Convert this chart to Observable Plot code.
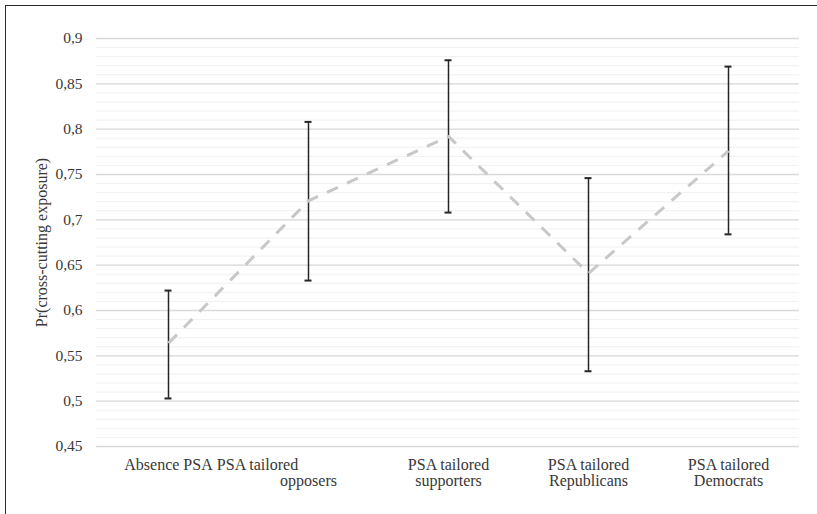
<!DOCTYPE html>
<html>
<head>
<meta charset="utf-8">
<script src="https://cdn.jsdelivr.net/npm/d3@7"></script>
<script src="https://cdn.jsdelivr.net/npm/@observablehq/plot@0.6"></script>
<style>
  html, body { margin: 0; padding: 0; background: #fff; overflow: hidden; }
  #wrap { position: relative; width: 817px; height: 514px; overflow: hidden; }
  #border { position: absolute; left: 5px; top: 5px; width: 900px; height: 900px;
            border: 1.5px solid #2a2a2a; pointer-events: none; }
  #chart svg, #chart svg text { font-family: "Liberation Serif", "Times New Roman", "DejaVu Serif", serif !important; }
</style>
</head>
<body>
<div id="wrap"><div id="chart"></div><div id="border"></div></div>
<script>
// ---- data ----
const categories = ["Absence PSA", "PSA tailored opposers", "PSA tailored supporters", "PSA tailored Republicans", "PSA tailored Democrats"];
const labelLine1 = ["Absence PSA", "PSA tailored", "PSA tailored", "PSA tailored", "PSA tailored"];
const labelLine2 = ["", "opposers", "supporters", "Republicans", "Democrats"];
const meanValues = [0.564, 0.721, 0.792, 0.641, 0.776];
const lowerValues = [0.503, 0.633, 0.708, 0.533, 0.684];
const upperValues = [0.622, 0.808, 0.876, 0.746, 0.869];
const yTicks = [0.45, 0.5, 0.55, 0.6, 0.65, 0.7, 0.75, 0.8, 0.85, 0.9];
const yTickLabels = ["0,45", "0,5", "0,55", "0,6", "0,65", "0,7", "0,75", "0,8", "0,85", "0,9"];
const yTitle = "Pr(cross-cutting exposure)";

const rows = categories.map((c, i) => ({
  cat: c, mean: meanValues[i], lo: lowerValues[i], hi: upperValues[i],
  l1: labelLine1[i], l2: labelLine2[i]
}));
const minorGrid = d3.range(45, 91).map(d => d / 100);
const labelMap = new Map(yTicks.map((t, i) => [t, yTickLabels[i]]));
const font = "Liberation Serif, Times New Roman, serif";
const textColor = "#383838";
const fs = 16;

const chart = Plot.plot({
  width: 817,
  height: 514,
  marginLeft: 96,
  marginRight: 18,
  marginTop: 38,
  marginBottom: 68,
  style: { fontFamily: font, fontSize: "16px", color: textColor, background: "white" },
  x: { type: "band", domain: categories, padding: 0, axis: null },
  y: { domain: [0.45, 0.9], axis: null },
  marks: [
    Plot.ruleY(minorGrid, { y: d => d, stroke: "#f0f0f0", strokeWidth: 1 }),
    Plot.ruleY(yTicks, { y: d => d, stroke: "#d9d9d9", strokeWidth: 1.3 }),
    Plot.axisY({ ticks: yTicks, tickFormat: d => labelMap.get(d), tickSize: 0, tickPadding: 14,
                 fontSize: 15.5, fontFamily: font, fill: textColor, label: null }),
    Plot.text([yTitle], { frameAnchor: "left", textAnchor: "middle", dx: -55, rotate: -90, text: d => d,
                          fontSize: fs, fontFamily: font, fill: textColor }),
    // x labels
    Plot.text(rows.filter(r => r.cat !== "PSA tailored opposers"),
              { x: "cat", text: "l1", frameAnchor: "bottom", dy: 23, fontSize: fs, fontFamily: font, fill: textColor }),
    Plot.text(rows.filter(r => r.cat === "PSA tailored opposers"),
              { x: "cat", text: "l1", frameAnchor: "bottom", dy: 23, dx: -51, fontSize: fs, fontFamily: font, fill: textColor }),
    Plot.text(rows, { x: "cat", text: "l2", frameAnchor: "bottom", dy: 39, fontSize: fs, fontFamily: font, fill: textColor }),
    // error bars
    Plot.ruleX(rows, { x: "cat", y1: "lo", y2: "hi", stroke: "#262626", strokeWidth: 1.5 }),
    Plot.tickY(rows, { x: "cat", y: "lo", stroke: "#262626", strokeWidth: 2, insetLeft: 66.5, insetRight: 66.5 }),
    Plot.tickY(rows, { x: "cat", y: "hi", stroke: "#262626", strokeWidth: 2, insetLeft: 66.5, insetRight: 66.5 }),
    // mean line
    Plot.line(rows, { x: "cat", y: "mean", stroke: "#c8c8c8", strokeWidth: 3,
                      strokeDasharray: "12,10", strokeLinecap: "butt", strokeLinejoin: "miter" })
  ]
});
document.getElementById("chart").appendChild(chart);
</script>
</body>
</html>
